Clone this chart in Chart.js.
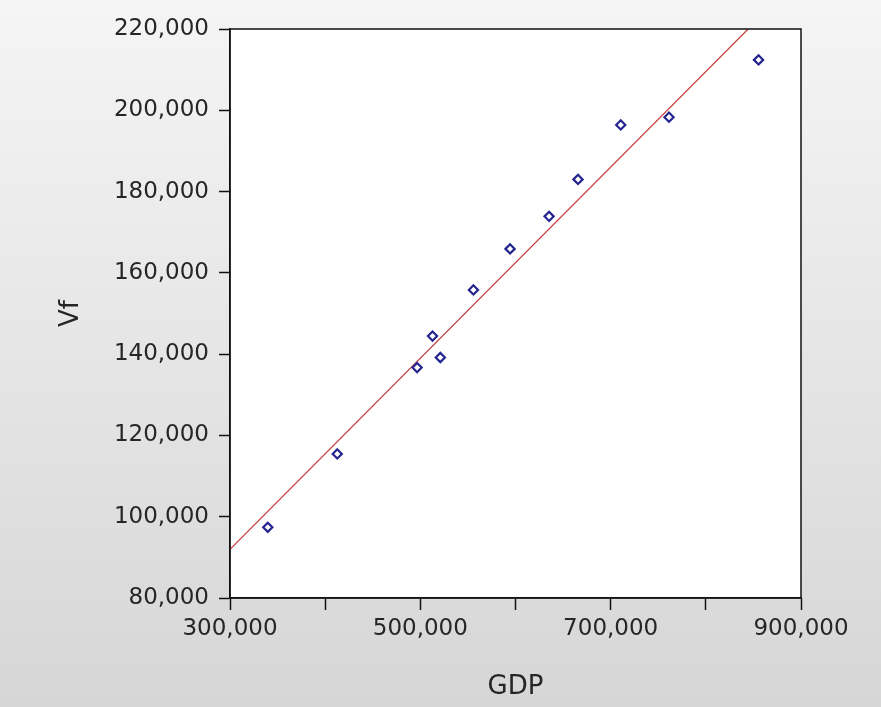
<!DOCTYPE html>
<html>
<head>
<meta charset="utf-8">
<title>Vf vs GDP</title>
<script src="https://cdn.jsdelivr.net/npm/chart.js@4.4.0/dist/chart.umd.min.js"></script>
<style>
  html, body { margin: 0; padding: 0; background: #e6e6e6; }
  #chart { display: block; }
</style>
</head>
<body>
<canvas id="chart" width="881" height="707"></canvas>
<script>
// datos
const gdp = [339700, 412700, 496600, 512800, 521000, 555800, 594300, 635300, 665700, 710600, 761300, 855400];
const vf = [97400, 115450, 136700, 144450, 139180, 155800, 165900, 173900, 183000, 196400, 198300, 212400];

// recta de ajuste (extremos donde toca el marco)
const fitGdp = [300000, 844500];
const fitVf = [92000, 220000];

const xTicks = [300000, 400000, 500000, 600000, 700000, 800000, 900000];
const xTickLabels = ['300,000', '', '500,000', '', '700,000', '', '900,000'];
const yTicks = [80000, 100000, 120000, 140000, 160000, 180000, 200000, 220000];
const yTickLabels = ['80,000', '100,000', '120,000', '140,000', '160,000', '180,000', '200,000', '220,000'];

(() => {
  const W = 881, H = 707;
  const area = { left: 230, top: 29, right: 801, bottom: 598 };
  const tickFont = { family: '"DejaVu Sans", sans-serif', size: 23 };
  const titleFont = { family: '"DejaVu Sans", sans-serif', size: 26 };
  const textColor = '#262626';
  const frame = '#111';

  // fondo gris degradado + area blanca + marco
  const marco = {
    id: 'marco',
    beforeDraw(chart) {
      const { ctx, chartArea: a } = chart;
      const g = ctx.createLinearGradient(0, 0, 0, H);
      g.addColorStop(0, '#f5f5f5');
      g.addColorStop(1, '#d6d6d6');
      ctx.save();
      ctx.fillStyle = g;
      ctx.fillRect(0, 0, W, H);
      ctx.fillStyle = '#ffffff';
      ctx.fillRect(a.left, a.top, a.right - a.left, a.bottom - a.top);
      ctx.restore();
    },
    afterDraw(chart) {
      const { ctx, chartArea: a } = chart;
      ctx.save();
      ctx.strokeStyle = frame;
      ctx.lineWidth = 1.5;
      ctx.strokeRect(a.left, a.top, a.right - a.left, a.bottom - a.top);
      ctx.restore();
    }
  };

  const puntos = gdp.map((x, i) => ({ x, y: vf[i] }));
  const recta = fitGdp.map((x, i) => ({ x, y: fitVf[i] }));

  new Chart(document.getElementById('chart'), {
    type: 'scatter',
    data: {
      datasets: [
        {
          label: 'Vf',
          data: puntos,
          pointStyle: 'rectRot',
          pointRadius: 4.6,
          borderWidth: 2.2,
          borderColor: '#25258f',
          backgroundColor: 'rgba(0,0,0,0)'
        },
        {
          label: 'Ajuste',
          data: recta,
          showLine: true,
          pointRadius: 0,
          borderColor: '#c63a3a',
          borderWidth: 1.2
        }
      ]
    },
    options: {
      responsive: false,
      animation: false,
      devicePixelRatio: 1,
      layout: { padding: { left: 50, top: area.top, right: W - area.right, bottom: 0 } },
      plugins: { legend: { display: false }, tooltip: { enabled: false } },
      scales: {
        x: {
          type: 'linear',
          min: 300000,
          max: 900000,
          afterBuildTicks: (s) => { s.ticks = xTicks.map(v => ({ value: v })); },
          afterFit: (s) => { s.height = H - area.bottom; },
          ticks: {
            callback: (v, i) => xTickLabels[i],
            font: tickFont,
            color: textColor,
            padding: 5,
            maxRotation: 0,
            autoSkip: false
          },
          grid: { drawOnChartArea: false, drawTicks: true, tickLength: 12, tickColor: frame, tickWidth: 1.5 },
          border: { display: true, color: frame, width: 1.5 },
          title: { display: true, text: 'GDP', font: titleFont, color: textColor, padding: { top: 0, bottom: 4.4 } }
        },
        y: {
          type: 'linear',
          min: 80000,
          max: 220000,
          afterBuildTicks: (s) => { s.ticks = yTicks.map(v => ({ value: v })); },
          afterFit: (s) => { s.width = area.left - 50; },
          ticks: {
            callback: (v, i) => yTickLabels[i],
            font: tickFont,
            color: textColor,
            padding: 10,
            autoSkip: false
          },
          grid: { drawOnChartArea: false, drawTicks: true, tickLength: 11, tickColor: frame, tickWidth: 1.5 },
          border: { display: true, color: frame, width: 1.5 },
          title: { display: true, text: 'Vf', font: titleFont, color: textColor, padding: { top: 6, bottom: 0 } }
        }
      }
    },
    plugins: [marco]
  });
})();
</script>
</body>
</html>
